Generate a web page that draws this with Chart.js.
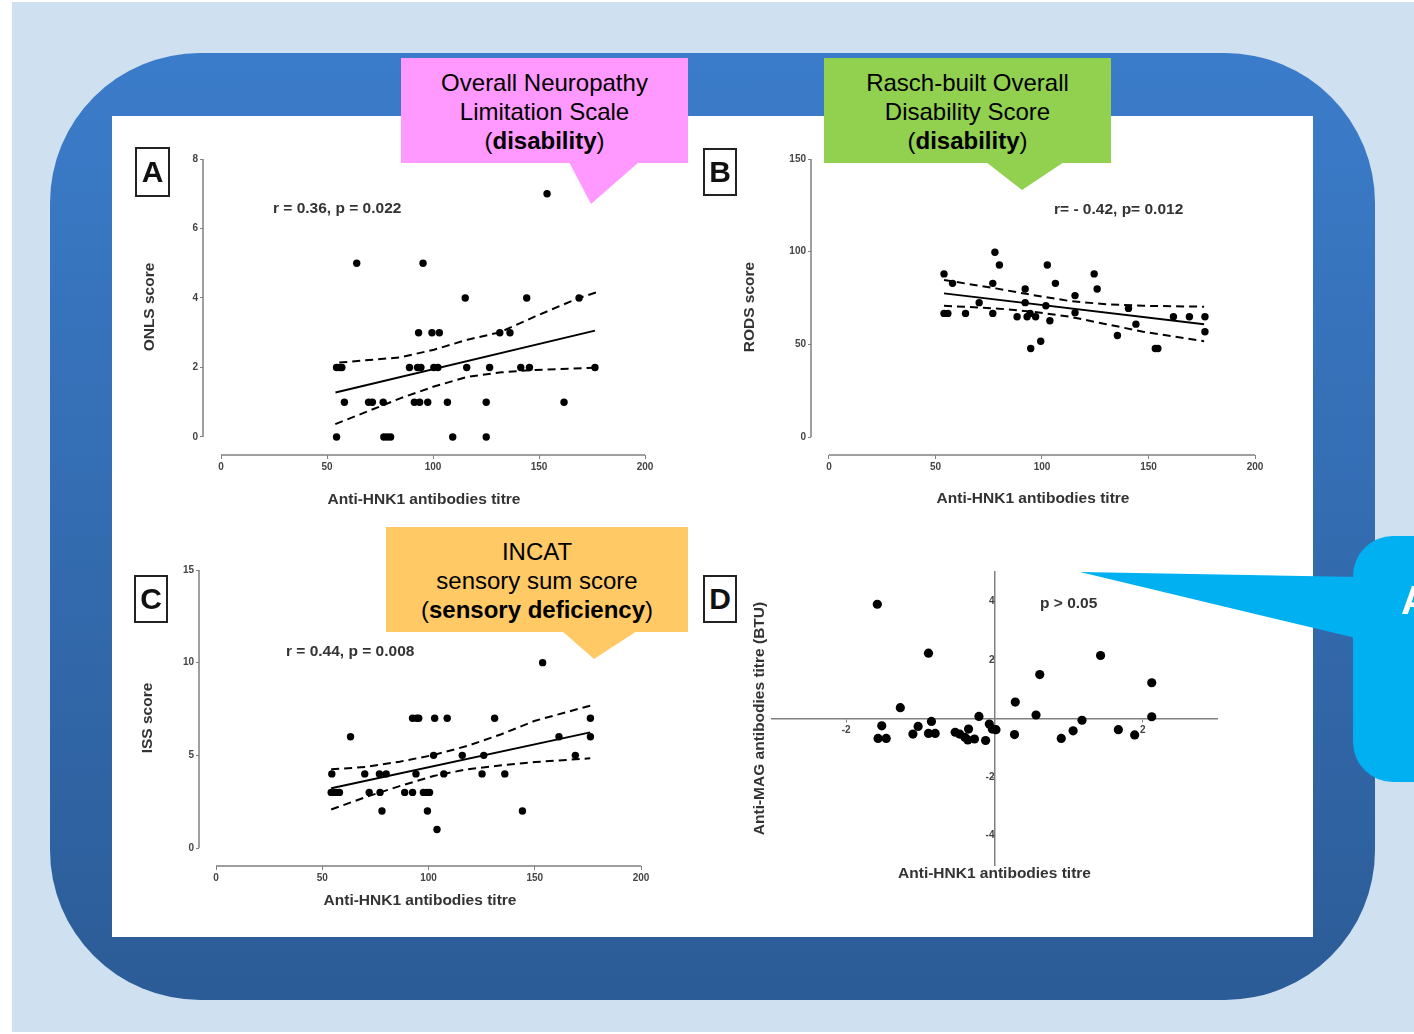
<!DOCTYPE html>
<html>
<head>
<meta charset="utf-8">
<script src="https://cdn.jsdelivr.net/npm/chart.js@4.4.1/dist/chart.umd.min.js"></script>
<style>
  html, body { margin: 0; padding: 0; width: 1414px; height: 1034px; overflow: hidden; background: #fff;
    font-family: "Liberation Sans", Arial, sans-serif; }
  .abs { position: absolute; }
  #bg { left: 12px; top: 2px; width: 1402px; height: 1030px; background: #cfe0f1; }
  #frame { left: 50px; top: 53px; width: 1325px; height: 947px; border-radius: 150px;
    background: linear-gradient(#3b7cca, #2c5c97); }
  #panel { left: 112px; top: 116px; width: 1201px; height: 821px; background: #fff; }
  .callout { text-align: center; font-size: 24px; line-height: 29px; color: #000; box-sizing: border-box; padding-top: 10px; }
  .tag { border: 2px solid #222; box-sizing: border-box; font-weight: bold; font-size: 30px; color: #111;
    display: flex; align-items: center; justify-content: center; }
  .stat { font-weight: bold; font-size: 15.5px; color: #333; white-space: nowrap; }
  #cyan { left: 1353px; top: 536px; width: 120px; height: 246px; border-radius: 40px; background: #00b0f0; }
  canvas { position: absolute; }
</style>
</head>
<body>
<div id="bg" class="abs"></div>
<div id="frame" class="abs"></div>
<div id="panel" class="abs"></div>

<canvas id="chartA" width="530" height="370" style="left:130px;top:150px"></canvas>
<canvas id="chartB" width="580" height="370" style="left:700px;top:150px"></canvas>
<canvas id="chartC" width="530" height="360" style="left:130px;top:560px"></canvas>
<canvas id="chartD" width="500" height="330" style="left:740px;top:560px"></canvas>

<div class="abs tag" style="left:135px;top:147px;width:35px;height:50px">A</div>
<div class="abs tag" style="left:703px;top:148px;width:34px;height:48px">B</div>
<div class="abs tag" style="left:134px;top:575px;width:34px;height:48px">C</div>
<div class="abs tag" style="left:703px;top:575px;width:34px;height:48px">D</div>

<div class="abs stat" style="left:273px;top:199px">r = 0.36, p = 0.022</div>
<div class="abs stat" style="left:1054px;top:200px">r= - 0.42, p= 0.012</div>
<div class="abs stat" style="left:286px;top:642px">r = 0.44, p = 0.008</div>
<div class="abs stat" style="left:1040px;top:594px">p &gt; 0.05</div>

<div id="cyan" class="abs"></div>
<svg class="abs" style="left:0;top:0" width="1414" height="1034">
  <polygon points="569,162 639,162 591,204" fill="#ff99ff"/>
  <polygon points="986,162 1064,162 1022,190" fill="#92d050"/>
  <polygon points="562,631 637,631 594,659" fill="#ffc966"/>
  <polygon points="1080,572 1360,577 1360,639" fill="#00b0f0"/>
</svg>
<div class="abs" style="left:1401px;top:578px;font-size:40px;font-weight:bold;color:#fff">A</div>

<div class="abs callout" style="left:401px;top:58px;width:287px;height:105px;background:#ff99ff">
  Overall Neuropathy<br>Limitation Scale<br>(<b>disability</b>)</div>
<div class="abs callout" style="left:824px;top:58px;width:287px;height:105px;background:#92d050">
  Rasch-built Overall<br>Disability Score<br>(<b>disability</b>)</div>
<div class="abs callout" style="left:386px;top:527px;width:302px;height:105px;background:#ffc966">
  INCAT<br>sensory sum score<br>(<b>sensory deficiency</b>)</div>

<script>
// ---- data ----
const xTicks = [0, 50, 100, 150, 200];

// A: ONLS score vs anti-HNK1 titre
const onlsTitre = [153.8, 64, 95.3, 115.2, 144.2, 168.9, 93.2, 99.5, 103, 131.5, 136.3,
  54.5, 56, 57, 88.9, 92.7, 94.3, 100.4, 102.3, 115.9, 126.7, 141.4, 145.5, 176.4,
  58.2, 69.6, 71.4, 76.5, 91.2, 93.7, 97.5, 106.8, 125.1, 161.8,
  54.5, 76.8, 78.4, 80, 109.3, 125.1];
const onlsScore = [7, 5, 5, 4, 4, 4, 3, 3, 3, 3, 3,
  2, 2, 2, 2, 2, 2, 2, 2, 2, 2, 2, 2, 2,
  1, 1, 1, 1, 1, 1, 1, 1, 1, 1,
  0, 0, 0, 0, 0, 0];
const onlsFitX = [54, 176.4];
const onlsFitY = [1.28, 3.06];
const onlsUpX = [55.8, 84.5, 100.4, 116.3, 131.5, 148.2, 168.9, 176.9];
const onlsUpY = [2.14, 2.29, 2.51, 2.8, 3.01, 3.47, 4.0, 4.16];
const onlsLoX = [53.9, 68.5, 84.5, 100.4, 116.3, 132.3, 148.2, 176.9];
const onlsLoY = [0.37, 0.72, 1.11, 1.45, 1.73, 1.86, 1.93, 1.99];
const onlsTicks = [0, 2, 4, 6, 8];

// B: RODS score vs anti-HNK1 titre
const rodsTitre = [54, 58, 54, 55.8, 64.1, 70.5, 76.9, 76.9, 77.9, 80, 88.3, 92.1, 92.1,
  93, 94.4, 94.7, 97, 99.4, 101.8, 102.5, 103.7, 106.3, 115.5, 115.5, 124.5, 125.9,
  135.4, 140.6, 144.1, 153.2, 154.4, 161.7, 169.2, 176.5, 176.5];
const rodsScore = [88, 82.9, 66.7, 66.7, 66.7, 72.5, 82.9, 66.7, 99.7, 92.8, 64.9, 79.9, 72.5,
  64.9, 66.7, 47.8, 64.9, 51.7, 70.8, 92.8, 62.7, 82.9, 76.3, 67.1, 88, 79.9,
  54.8, 69.4, 60.9, 47.8, 47.8, 64.9, 64.9, 64.9, 56.8];
const rodsFitX = [54, 176.1];
const rodsFitY = [77.5, 60.9];
const rodsUpX = [54, 78.3, 95.6, 112.9, 130.2, 147.5, 176.1];
const rodsUpY = [84.7, 80.2, 76.6, 73.4, 71.6, 70.8, 70.3];
const rodsLoX = [54, 78.3, 95.6, 112.9, 130.2, 147.5, 176.1];
const rodsLoY = [70.8, 69.4, 67.6, 64.9, 60.9, 56.8, 51.7];
const rodsTicks = [0, 50, 100, 150];

// C: ISS score vs anti-HNK1 titre
const issTitre = [153.7, 63.3, 92.5, 94.4, 95.4, 102.9, 108.8, 131.1, 176.2, 161.4, 176.2,
  102.4, 115.9, 126, 169.1,
  54.5, 70, 76.9, 80.1, 94.1, 107.2, 125.2, 135.9,
  54.2, 55.5, 56.6, 58.1, 72.1, 77.2, 88.8, 92.5, 97.6, 99.2, 100.5,
  78.1, 99.5, 144.2, 104];
const issScore = [10, 6, 7, 7, 7, 7, 7, 7, 7, 6, 6,
  5, 5, 5, 5,
  4, 4, 4, 4, 4, 4, 4, 4,
  3, 3, 3, 3, 3, 3, 3, 3, 3, 3, 3,
  2, 2, 2, 1];
const issFitX = [54.2, 176.1];
const issFitY = [3.22, 6.24];
const issUpX = [54.2, 70.5, 86.4, 102.4, 118.3, 134.3, 150.2, 176.1];
const issUpY = [4.25, 4.37, 4.66, 5.02, 5.51, 6.14, 6.87, 7.68];
const issLoX = [54.2, 70.5, 86.4, 102.4, 118.3, 134.3, 150.2, 176.1];
const issLoY = [2.08, 2.75, 3.34, 3.89, 4.25, 4.46, 4.64, 4.84];
const issTicks = [0, 5, 10, 15];

// D: anti-MAG vs anti-HNK1 (standardised)
const hnk1 = [-1.58, -0.89, -1.27, -1.52, -1.57, -1.46, -1.03, -1.1, -0.85, -0.89, -0.8,
  -0.53, -0.47, -0.4, -0.35, -0.36, -0.27, -0.21, -0.12, -0.07, -0.03, 0.02,
  0.28, 0.27, 0.56, 0.61, 0.9, 1.06, 1.18, 1.43, 1.67, 1.89, 2.12, 2.12];
const mag = [3.9, 2.23, 0.37, -0.25, -0.68, -0.68, -0.27, -0.53, -0.1, -0.51, -0.51,
  -0.47, -0.53, -0.64, -0.36, -0.73, -0.7, 0.07, -0.75, -0.19, -0.36, -0.38,
  0.56, -0.55, 0.12, 1.5, -0.68, -0.42, -0.06, 2.15, -0.38, -0.56, 1.22, 0.06];
const dXTicks = [-2, 2];
const dYTicks = [-4, -2, 2, 4];

// ---- drawing ----
Chart.defaults.font.family = '"Liberation Sans", Arial, sans-serif';
Chart.defaults.animation = false;
Chart.defaults.plugins.legend.display = false;
Chart.defaults.plugins.tooltip.enabled = false;

const zip = (xs, ys) => xs.map((x, i) => ({x, y: ys[i]}));
const tickFont = {size: 10, weight: 'bold'};
const titleFont = {size: 15.5, weight: 'bold'};

// GraphPad style: axis lines stop at the data range, x axis dropped below
const offsetAxes = {
  id: 'offsetAxes',
  afterDraw(chart, args, o) {
    if (!o.yTo) return;
    const {ctx, chartArea: a, scales: {x, y}} = chart;
    ctx.save();
    ctx.strokeStyle = '#808080';
    ctx.lineWidth = 1.5;
    ctx.beginPath();
    ctx.moveTo(a.left, y.getPixelForValue(0));
    ctx.lineTo(a.left, y.getPixelForValue(o.yTo));
    ctx.moveTo(x.getPixelForValue(0), a.bottom);
    ctx.lineTo(x.getPixelForValue(200), a.bottom);
    ctx.stroke();
    ctx.restore();
  }
};

function scatterPanel(id, d, lay) {
  const line = (pts, dash) => ({
    data: pts, showLine: true, pointRadius: 0, borderColor: '#000',
    borderWidth: 2, borderDash: dash, fill: false
  });
  new Chart(document.getElementById(id), {
    type: 'scatter',
    data: {
      datasets: [
        {data: zip(d.x, d.y), pointRadius: 3.7, backgroundColor: '#000', borderWidth: 0},
        line(zip(d.fitX, d.fitY), []),
        line(zip(d.upX, d.upY), [8, 5]),
        line(zip(d.loX, d.loY), [8, 5])
      ]
    },
    options: {
      responsive: false,
      layout: {padding: {top: lay.top, right: lay.right, left: 0, bottom: 0}},
      scales: {
        x: {
          min: lay.xMin, max: 200,
          afterBuildTicks: s => { s.ticks = xTicks.map(v => ({value: v})); },
          afterFit: s => { s.height = lay.xH; },
          grid: {drawOnChartArea: false, tickLength: 4, color: '#808080'},
          border: {display: false},
          ticks: {font: tickFont, color: '#444', padding: 2, maxRotation: 0},
          title: {display: true, text: 'Anti-HNK1 antibodies titre', font: titleFont,
            color: '#333', padding: {top: 0, bottom: lay.xTitlePad}}
        },
        y: {
          min: lay.yMin, max: d.ticks[d.ticks.length - 1],
          afterBuildTicks: s => { s.ticks = d.ticks.map(v => ({value: v})); },
          afterFit: s => { s.width = lay.yW; },
          grid: {drawOnChartArea: false, tickLength: 3, color: '#808080'},
          border: {display: false},
          ticks: {font: tickFont, color: '#444', padding: 2},
          title: {display: true, text: lay.yTitle, font: titleFont,
            color: '#333', padding: {top: lay.yTitlePad, bottom: 0}}
        }
      },
      plugins: {offsetAxes: {yTo: d.ticks[d.ticks.length - 1]}}
    },
    plugins: [offsetAxes]
  });
}

scatterPanel('chartA',
  {x: onlsTitre, y: onlsScore, fitX: onlsFitX, fitY: onlsFitY, upX: onlsUpX, upY: onlsUpY,
   loX: onlsLoX, loY: onlsLoY, ticks: onlsTicks},
  {top: 9, right: 15, xMin: -8.5, yMin: -0.52, xH: 65, xTitlePad: 10.7, yW: 73, yTitlePad: 10.7, yTitle: 'ONLS score'});

scatterPanel('chartB',
  {x: rodsTitre, y: rodsScore, fitX: rodsFitX, fitY: rodsFitY, upX: rodsUpX, upY: rodsUpY,
   loX: rodsLoX, loY: rodsLoY, ticks: rodsTicks},
  {top: 9, right: 25, xMin: -8.45, yMin: -9.7, xH: 65, xTitlePad: 11.7, yW: 111, yTitlePad: 40.7, yTitle: 'RODS score'});

scatterPanel('chartC',
  {x: issTitre, y: issScore, fitX: issFitX, fitY: issFitY, upX: issUpX, upY: issUpY,
   loX: issLoX, loY: issLoY, ticks: issTicks},
  {top: 10, right: 19, xMin: -8, yMin: -0.97, xH: 54, xTitlePad: 9.7, yW: 69, yTitlePad: 8.7, yTitle: 'ISS score'});

// D: axes crossing at the origin, titles carried by two bare edge axes
new Chart(document.getElementById('chartD'), {
  type: 'scatter',
  data: {datasets: [{data: zip(hnk1, mag), pointRadius: 4.6, backgroundColor: '#000', borderWidth: 0}]},
  options: {
    responsive: false,
    layout: {padding: {top: 10, right: 23, left: 0, bottom: 0}},
    scales: {
      x: {
        min: -3, max: 3, position: {y: 0},
        afterBuildTicks: s => { s.ticks = dXTicks.map(v => ({value: v})); },
        grid: {drawOnChartArea: false, tickLength: 3, color: '#808080'},
        border: {color: '#808080', width: 1.5},
        ticks: {font: tickFont, color: '#444', padding: 3}
      },
      y: {
        min: -5, max: 5, position: {x: 0},
        afterBuildTicks: s => { s.ticks = dYTicks.map(v => ({value: v})); },
        grid: {drawOnChartArea: false, tickLength: 3, color: '#808080'},
        border: {color: '#808080', width: 1.5},
        ticks: {font: tickFont, color: '#444', padding: 6}
      },
      xt: {
        type: 'linear', position: 'bottom', min: 0, max: 1,
        afterFit: s => { s.height = 25; },
        grid: {display: false}, border: {display: false}, ticks: {display: false},
        title: {display: true, text: 'Anti-HNK1 antibodies titre', font: titleFont,
          color: '#333', padding: {top: 0, bottom: 6.7}}
      },
      yt: {
        type: 'linear', position: 'left', min: 0, max: 1,
        afterFit: s => { s.width = 32; },
        grid: {display: false}, border: {display: false}, ticks: {display: false},
        title: {display: true, text: 'Anti-MAG antibodies titre (BTU)', font: titleFont,
          color: '#333', padding: {top: 10.7, bottom: 0}}
      }
    }
  }
});
</script>
</body>
</html>
